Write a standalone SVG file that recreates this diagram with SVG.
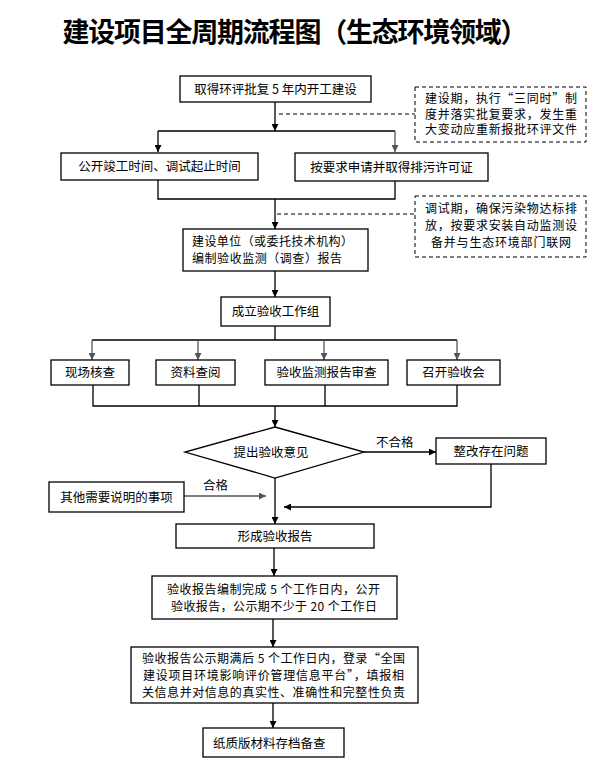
<svg xmlns="http://www.w3.org/2000/svg" width="604" height="769" viewBox="0 0 604 769">
<style>
.bg{fill:#fff}
.box{fill:#fff;stroke:#000;stroke-width:1.3}
.note{fill:#fff;stroke:#000;stroke-width:1;stroke-dasharray:4 3}
.t{font-family:"Noto Sans CJK SC","Liberation Sans",sans-serif;font-size:12.5px;fill:#000}
.n{font-family:"Noto Sans CJK SC","Liberation Sans",sans-serif;font-size:12px;fill:#000}
.c{text-anchor:middle}
.title{font-family:"Noto Sans CJK SC","Liberation Sans",sans-serif;font-size:27px;font-weight:bold;fill:#000;text-anchor:middle}
.ln{fill:none;stroke:#000;stroke-width:1.3}
.gl{fill:none;stroke:#555;stroke-width:1.3}
.dl{fill:none;stroke:#000;stroke-width:1;stroke-dasharray:4 3}
</style>
<defs>
<marker id="ah" viewBox="0 0 10 10" refX="10" refY="5" markerUnits="userSpaceOnUse" markerWidth="8" markerHeight="7" orient="auto"><path d="M0,0 L10,5 L0,10 z" fill="#000"/></marker>
<marker id="ahg" viewBox="0 0 10 10" refX="10" refY="5" markerUnits="userSpaceOnUse" markerWidth="8" markerHeight="7" orient="auto"><path d="M0,0 L10,5 L0,10 z" fill="#555"/></marker>
</defs>
<rect class="bg" x="0" y="0" width="604" height="769"/>
<text class="title" x="295" y="42" textLength="465" lengthAdjust="spacing">建设项目全周期流程图（生态环境领域）</text>

<g id="connectors">
<path class="ln" d="M275,102 V131" marker-end="url(#ah)"/>
<path class="ln" d="M158,131 H395"/>
<path class="ln" d="M158,131 V152" marker-end="url(#ah)"/>
<path class="gl" d="M395,131 V152" marker-end="url(#ahg)"/>
<path class="dl" d="M279,114 H415"/>
<path class="ln" d="M158,180 V199 H395 V181"/>
<path class="ln" d="M275,199 V229" marker-end="url(#ah)"/>
<path class="dl" d="M277,214 H415"/>
<path class="ln" d="M275,271 V297" marker-end="url(#ah)"/>
<path class="ln" d="M275,326 V340 M92,340 H457"/>
<path class="gl" d="M92,340 V360" marker-end="url(#ahg)"/>
<path class="gl" d="M198,340 V360" marker-end="url(#ahg)"/>
<path class="gl" d="M324,340 V360" marker-end="url(#ahg)"/>
<path class="gl" d="M457,340 V360" marker-end="url(#ahg)"/>
<path class="ln" d="M93,385 V406 H457 V385 M199,385 V406 M325,385 V406"/>
<path class="ln" d="M275,406 V427" marker-end="url(#ah)"/>
<path class="ln" d="M364,452 H436" marker-end="url(#ah)"/>
<text class="t" x="376" y="447">不合格</text>
<path class="ln" d="M275,478 V524" marker-end="url(#ah)"/>
<path class="ln" d="M491,464 V507 H284" marker-end="url(#ah)"/>
<path class="gl" d="M184,496 H266" marker-end="url(#ahg)"/>
<text class="t" x="203" y="490">合格</text>
<path class="ln" d="M274,548 V576" marker-end="url(#ah)"/>
<path class="ln" d="M273,619 V647" marker-end="url(#ah)"/>
<path class="ln" d="M273,703 V728" marker-end="url(#ah)"/>
</g>

<g id="n1"><rect class="box" x="180" y="76" width="191" height="26"/><text class="t c" x="275.5" y="93.5">取得环评批复 5 年内开工建设</text></g>
<g id="note1"><rect class="note" x="415" y="87" width="171" height="55"/>
<text class="n" x="425" y="103" textLength="152" lengthAdjust="spacing">建设期，执行“三同时”制</text>
<text class="n" x="425" y="118.5" textLength="152" lengthAdjust="spacing">度并落实批复要求，发生重</text>
<text class="n" x="425" y="134" textLength="152" lengthAdjust="spacing">大变动应重新报批环评文件</text></g>
<g id="n2"><rect class="box" x="61" y="153" width="197" height="27"/><text class="t c" x="159.5" y="171">公开竣工时间、调试起止时间</text></g>
<g id="n3"><rect class="box" x="295" y="153" width="193" height="28"/><text class="t c" x="391.5" y="171.5">按要求申请并取得排污许可证</text></g>
<g id="note2"><rect class="note" x="415" y="196" width="171" height="61"/>
<text class="n" x="425" y="212.5" textLength="152" lengthAdjust="spacing">调试期，确保污染物达标排</text>
<text class="n" x="425" y="229.5" textLength="152" lengthAdjust="spacing">放，按要求安装自动监测设</text>
<text class="n" x="431" y="246.5" textLength="140" lengthAdjust="spacing">备并与生态环境部门联网</text></g>
<g id="n4"><rect class="box" x="183" y="229" width="185" height="42"/>
<text class="n" x="192" y="246" textLength="161" lengthAdjust="spacing">建设单位（或委托技术机构）</text>
<text class="n" x="192" y="262.5" textLength="150" lengthAdjust="spacing">编制验收监测（调查）报告</text></g>
<g id="n5"><rect class="box" x="221" y="297" width="109" height="29"/><text class="t c" x="275.5" y="315.5">成立验收工作组</text></g>
<g id="n6"><rect class="box" x="51" y="360" width="78" height="25"/><text class="t c" x="90" y="377">现场核查</text></g>
<g id="n7"><rect class="box" x="156" y="360" width="79" height="25"/><text class="t c" x="195.5" y="377">资料查阅</text></g>
<g id="n8"><rect class="box" x="265" y="360" width="123" height="25"/><text class="t c" x="326.5" y="377">验收监测报告审查</text></g>
<g id="n9"><rect class="box" x="407" y="360" width="93" height="25"/><text class="t c" x="453.5" y="377">召开验收会</text></g>
<g id="n10"><path class="box" d="M275,427 L364,452 L275,478 L185,452 Z"/><text class="t c" x="271" y="456.5">提出验收意见</text></g>
<g id="n11"><rect class="box" x="436" y="438" width="110" height="26"/><text class="t c" x="491" y="455.5">整改存在问题</text></g>
<g id="n12"><rect class="box" x="49" y="482" width="135" height="30"/><text class="t c" x="116.5" y="501.5">其他需要说明的事项</text></g>
<g id="n13"><rect class="box" x="176" y="524" width="198" height="24"/><text class="t c" x="275" y="540.5">形成验收报告</text></g>
<g id="n14"><rect class="box" x="152" y="576" width="245" height="43"/>
<text class="n" x="167" y="594" textLength="213" lengthAdjust="spacing">验收报告编制完成 5 个工作日内，公开</text>
<text class="n" x="171" y="610.5" textLength="206" lengthAdjust="spacing">验收报告，公示期不少于 20 个工作日</text></g>
<g id="n15"><rect class="box" x="131" y="647" width="287" height="56"/>
<text class="n" x="142" y="662.5" textLength="263" lengthAdjust="spacing">验收报告公示期满后 5 个工作日内，登录“全国</text>
<text class="n" x="143" y="679.5" textLength="261" lengthAdjust="spacing">建设项目环境影响评价管理信息平台”，填报相</text>
<text class="n" x="142" y="696.5" textLength="263" lengthAdjust="spacing">关信息并对信息的真实性、准确性和完整性负责</text></g>
<g id="n16"><rect class="box" x="203" y="728" width="141" height="29"/><text class="t" x="213" y="747.5">纸质版材料存档备查</text></g>
</svg>
